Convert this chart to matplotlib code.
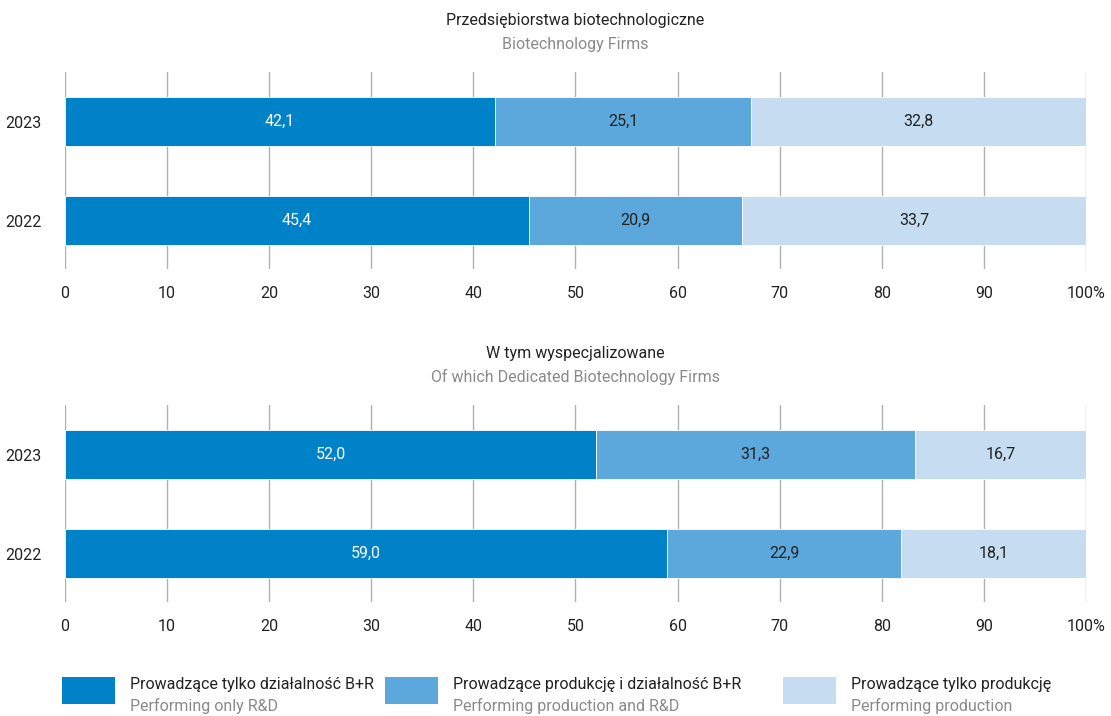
import numpy as np
import matplotlib.pyplot as plt
from matplotlib.patches import Rectangle

# Data
years=['2023','2022']
onlyRD_all=[42.1,45.4]
prodRD_all=[25.1,20.9]
onlyProd_all=[32.8,33.7]
onlyRD_ded=[52.0,59.0]
prodRD_ded=[31.3,22.9]
onlyProd_ded=[16.7,18.1]
ticks=[0,10,20,30,40,50,60,70,80,90,100]
tickLabels=['0','10','20','30','40','50','60','70','80','90','100%']

legendPL=['Prowadzące tylko działalność B+R','Prowadzące produkcję i działalność B+R','Prowadzące tylko produkcję']
legendEN=['Performing only R&D','Performing production and R&D','Performing production']

# Colors
colors=['#0082c8','#5ca7db','#c6dcf0']
textColors=['white','#222222','#222222']
dark='#222222'
grey='#8a8a8a'
fs=11.5

plt.rcParams['font.family']=['Roboto','DejaVu Sans']

fig=plt.figure(figsize=(11.11,7.16),dpi=100)

def drawPanel(rect,series,titlePL,titleEN):
	ax=fig.add_axes(rect)
	ypos=[1,0]
	left=np.zeros(2)
	for k in range(0,3):
		vals=np.array(series[k])
		ax.barh(ypos,vals,left=left,height=0.5,color=colors[k],edgecolor='white',linewidth=0.6,zorder=2)
		for i in range(0,2):
			ax.text(left[i]+vals[i]/2,ypos[i],('%.1f'%vals[i]).replace('.',','),ha='center',va='center',
				fontsize=fs,color=textColors[k],zorder=3)
		left=left+vals
	ax.set_xlim(0,100)
	ax.set_ylim(-0.49,1.5)
	ax.set_xticks(ticks)
	ax.set_xticklabels(tickLabels,fontsize=fs,color=dark)
	ax.set_yticks(ypos)
	ax.set_yticklabels(years,fontsize=fs,color=dark)
	ax.tick_params(axis='both',length=0)
	ax.tick_params(axis='x',pad=12)
	ax.tick_params(axis='y',pad=17)
	ax.grid(axis='x',color='#b0b0b0',linewidth=1,zorder=0)
	for s in ax.spines.values():
		s.set_visible(False)
	x0=rect[0]+rect[2]/2
	top=rect[1]+rect[3]
	fig.text(x0,top+0.072,titlePL,ha='center',va='center',fontsize=fs,color=dark)
	fig.text(x0,top+0.039,titleEN,ha='center',va='center',fontsize=fs,color=grey)
	return ax

drawPanel([0.0585,0.6243,0.919,0.2751],[onlyRD_all,prodRD_all,onlyProd_all],
	'Przedsiębiorstwa biotechnologiczne','Biotechnology Firms')
drawPanel([0.0585,0.1592,0.919,0.2751],[onlyRD_ded,prodRD_ded,onlyProd_ded],
	'W tym wyspecjalizowane','Of which Dedicated Biotechnology Firms')

# Legend
legX=[62,385,783]
for k in range(0,3):
	fig.patches.append(Rectangle((legX[k]/1111,1-704/716),53/1111,27/716,transform=fig.transFigure,
		facecolor=colors[k],edgecolor='none'))
	fig.text((legX[k]+68)/1111,1-684/716,legendPL[k],ha='left',va='center',fontsize=fs,color=dark)
	fig.text((legX[k]+68)/1111,1-706/716,legendEN[k],ha='left',va='center',fontsize=fs,color=grey)

plt.savefig('out.png',dpi=100)
